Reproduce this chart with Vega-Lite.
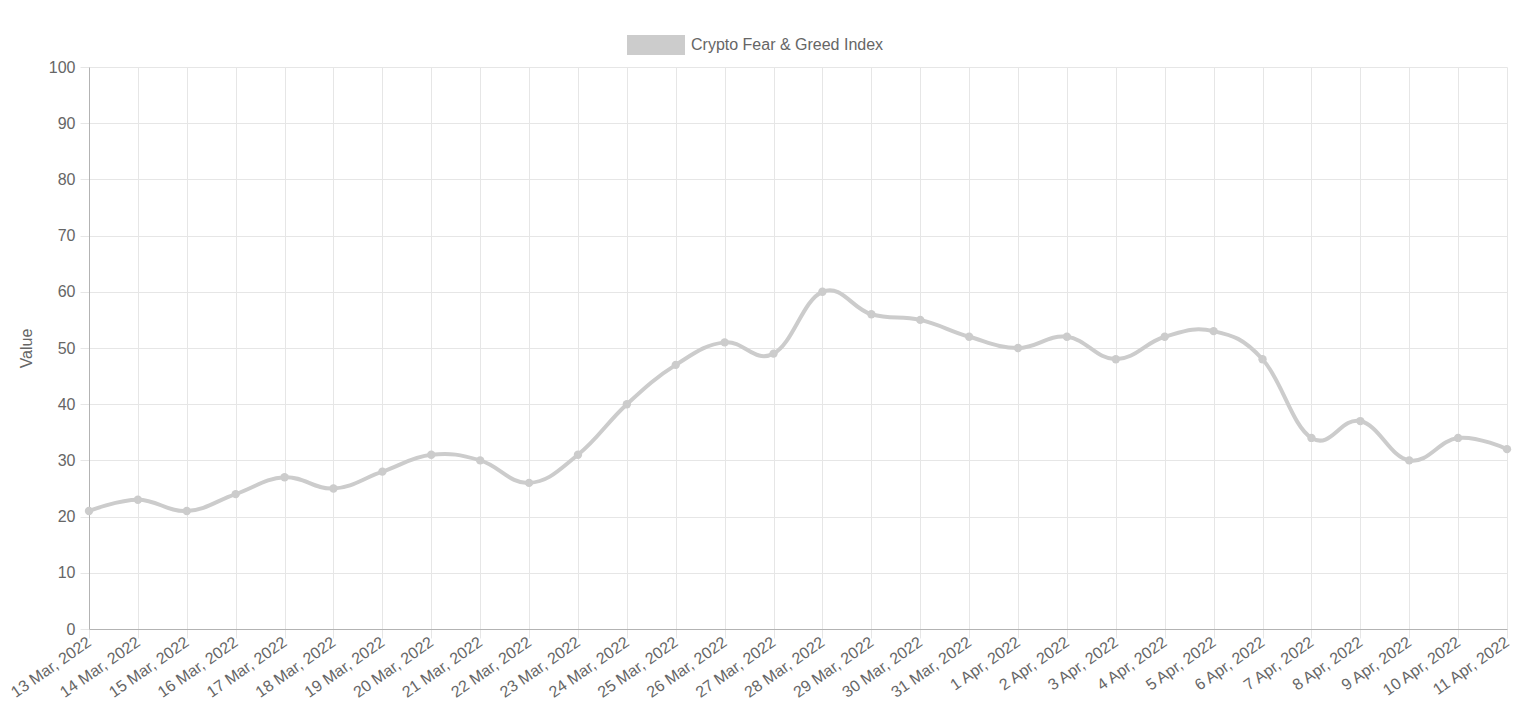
{
  "$schema": "https://vega.github.io/schema/vega-lite/v6.json",
  "autosize": {"type": "none"},
  "width": 1418,
  "height": 562,
  "padding": {"left": 89, "top": 67, "right": 29, "bottom": 90},
  "background": "white",
  "config": {
    "view": {"stroke": null},
    "font": "Liberation Sans",
    "axis": {
      "labelFont": "Liberation Sans",
      "labelFontSize": 16,
      "labelColor": "#666666",
      "titleFont": "Liberation Sans",
      "titleFontSize": 16,
      "titleColor": "#666666",
      "titleFontWeight": "normal",
      "gridColor": "#e6e6e6",
      "gridWidth": 1,
      "gridOpacity": 1,
      "domainColor": "#b3b3b3",
      "tickColor": "#e6e6e6",
      "tickSize": 9
    }
  },
  "data": {
    "values": [
      {"date": "13 Mar, 2022", "value": 21},
      {"date": "14 Mar, 2022", "value": 23},
      {"date": "15 Mar, 2022", "value": 21},
      {"date": "16 Mar, 2022", "value": 24},
      {"date": "17 Mar, 2022", "value": 27},
      {"date": "18 Mar, 2022", "value": 25},
      {"date": "19 Mar, 2022", "value": 28},
      {"date": "20 Mar, 2022", "value": 31},
      {"date": "21 Mar, 2022", "value": 30},
      {"date": "22 Mar, 2022", "value": 26},
      {"date": "23 Mar, 2022", "value": 31},
      {"date": "24 Mar, 2022", "value": 40},
      {"date": "25 Mar, 2022", "value": 47},
      {"date": "26 Mar, 2022", "value": 51},
      {"date": "27 Mar, 2022", "value": 49},
      {"date": "28 Mar, 2022", "value": 60},
      {"date": "29 Mar, 2022", "value": 56},
      {"date": "30 Mar, 2022", "value": 55},
      {"date": "31 Mar, 2022", "value": 52},
      {"date": "1 Apr, 2022", "value": 50},
      {"date": "2 Apr, 2022", "value": 52},
      {"date": "3 Apr, 2022", "value": 48},
      {"date": "4 Apr, 2022", "value": 52},
      {"date": "5 Apr, 2022", "value": 53},
      {"date": "6 Apr, 2022", "value": 48},
      {"date": "7 Apr, 2022", "value": 34},
      {"date": "8 Apr, 2022", "value": 37},
      {"date": "9 Apr, 2022", "value": 30},
      {"date": "10 Apr, 2022", "value": 34},
      {"date": "11 Apr, 2022", "value": 32}
    ]
  },
  "encoding": {
    "x": {
      "field": "date",
      "type": "nominal",
      "sort": null,
      "scale": {"type": "point", "padding": 0},
      "axis": {
        "title": null,
        "labelAngle": -35,
        "labelAlign": "right",
        "labelBaseline": "middle",
        "labelPadding": 2,
        "grid": true
      }
    },
    "y": {
      "field": "value",
      "type": "quantitative",
      "scale": {"domain": [0, 100], "nice": false},
      "axis": {
        "title": "Value",
        "values": [0, 10, 20, 30, 40, 50, 60, 70, 80, 90, 100],
        "labelPadding": 5,
        "titlePadding": 14,
        "grid": true
      }
    }
  },
  "layer": [
    {
      "mark": {"type": "line", "interpolate": "cardinal", "tension": -0.2, "stroke": "#cccccc", "strokeWidth": 4}
    },
    {
      "mark": {"type": "point", "filled": true, "size": 70, "opacity": 1, "shape": "circle"},
      "encoding": {
        "color": {
          "datum": "Crypto Fear & Greed Index",
          "type": "nominal",
          "scale": {"range": ["#cccccc"]},
          "legend": {
            "title": null,
            "orient": "none",
            "legendX": 538,
            "legendY": -51,
            "padding": 0,
            "symbolType": "M-1,-0.345H1V0.345H-1Z",
            "symbolSize": 3364,
            "symbolStrokeWidth": 0,
            "symbolOpacity": 1,
            "labelFont": "Liberation Sans",
            "labelFontSize": 16,
            "labelColor": "#666666",
            "labelLimit": 500,
            "labelOffset": 6
          }
        }
      }
    }
  ]
}
